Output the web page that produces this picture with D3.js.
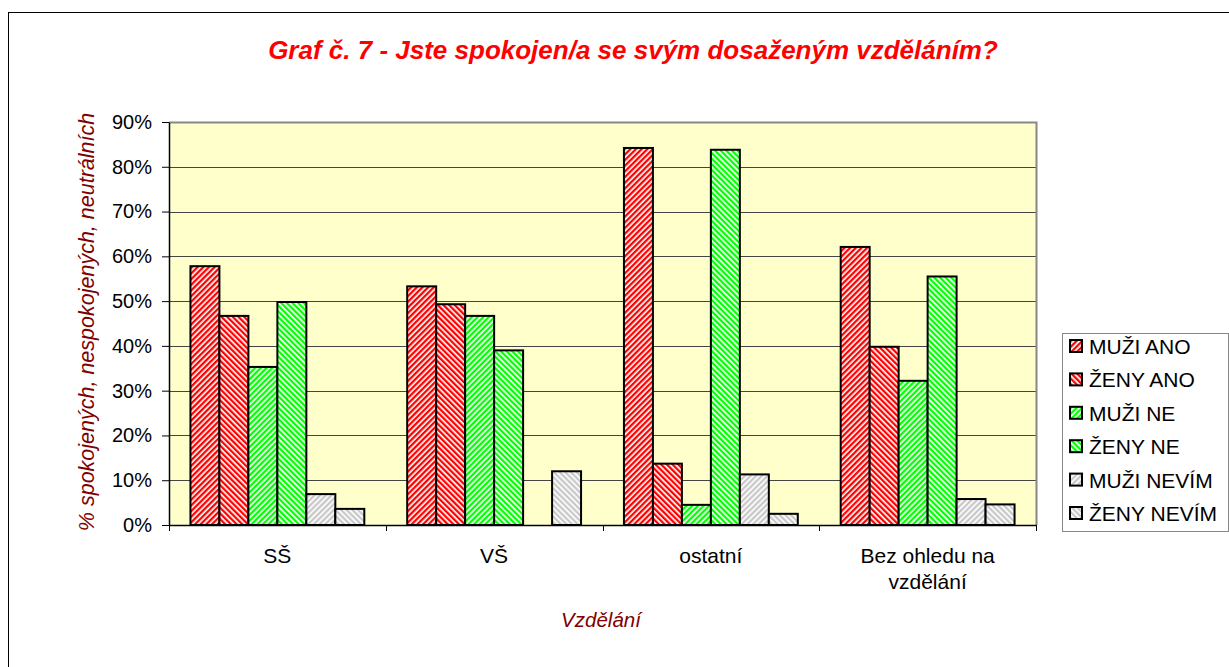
<!DOCTYPE html>
<html>
<head>
<meta charset="utf-8">
<script src="https://cdn.jsdelivr.net/npm/d3@7"></script>
<style>
  body { margin: 0; background: #fff; }
  text { font-family: "Liberation Sans", Arial, sans-serif; }
</style>
</head>
<body>
<div id="chart"></div>
<script>
// data
const categories = ["SŠ", "VŠ", "ostatní", "Bez ohledu na vzdělání"];
const seriesNames = ["MUŽI ANO", "ŽENY ANO", "MUŽI NE", "ŽENY NE", "MUŽI NEVÍM", "ŽENY NEVÍM"];
const muziAno = [57.8, 53.3, 84.2, 62.1];
const zenyAno = [46.7, 49.3, 13.7, 39.8];
const muziNe = [35.3, 46.7, 4.5, 32.2];
const zenyNe = [49.8, 39.0, 83.8, 55.5];
const muziNevim = [6.9, 0, 11.3, 5.8];
const zenyNevim = [3.6, 12.0, 2.5, 4.6];
const yTicks = [0, 10, 20, 30, 40, 50, 60, 70, 80, 90];

const seriesValues = [muziAno, zenyAno, muziNe, zenyNe, muziNevim, zenyNevim];
const seriesColor = ["#ff0000", "#ff0000", "#00ff00", "#00ff00", "#c8c8c8", "#c8c8c8"];
const seriesDir = ["up", "down", "up", "down", "up", "down"];

const W = 1229, H = 667;
const plot = { left: 169, right: 1036, top: 122, bottom: 525 };

const svg = d3.select("#chart")
  .append("svg")
  .attr("width", W)
  .attr("height", H);

// hatch patterns
const defs = svg.append("defs");
seriesNames.forEach((name, i) => {
  const p = defs.append("pattern")
    .attr("id", "pat" + i)
    .attr("patternUnits", "userSpaceOnUse")
    .attr("width", 4)
    .attr("height", 4)
    .attr("patternTransform", seriesDir[i] === "up" ? "rotate(45)" : "rotate(-45)");
  p.append("rect").attr("width", 4).attr("height", 4).attr("fill", "#fff");
  p.append("rect").attr("width", 2.3).attr("height", 4).attr("fill", seriesColor[i]);
});

// outer chart border
svg.append("rect")
  .attr("x", 8.5).attr("y", 12.5)
  .attr("width", 1240).attr("height", 680)
  .attr("fill", "none").attr("stroke", "#000").attr("stroke-width", 1);

const x0 = d3.scaleBand()
  .domain(categories)
  .range([plot.left, plot.right])
  .paddingInner(0).paddingOuter(0);

const x1 = d3.scaleBand()
  .domain(d3.range(seriesNames.length))
  .range([0, x0.bandwidth()])
  .paddingOuter(0.74);

const y = d3.scaleLinear()
  .domain([0, 90])
  .range([plot.bottom, plot.top]);

// plot background
svg.append("rect")
  .attr("x", plot.left).attr("y", plot.top)
  .attr("width", plot.right - plot.left).attr("height", plot.bottom - plot.top)
  .attr("fill", "#ffffcc");

// grid
svg.append("g")
  .selectAll("line")
  .data(yTicks.filter(d => d > 0))
  .join("line")
  .attr("x1", plot.left).attr("x2", plot.right)
  .attr("y1", d => Math.round(y(d)) + 0.5).attr("y2", d => Math.round(y(d)) + 0.5)
  .attr("stroke", "#444").attr("stroke-width", 1);

// top and right plot border
svg.append("path")
  .attr("d", `M${plot.left},${plot.top + 0.5}H${plot.right + 0.5}V${plot.bottom}`)
  .attr("fill", "none").attr("stroke", "#888").attr("stroke-width", 2);

// bars
const groups = svg.append("g")
  .selectAll("g")
  .data(categories)
  .join("g")
  .attr("transform", d => `translate(${x0(d)},0)`);

groups.selectAll("rect")
  .data((c, ci) => seriesValues.map((vals, si) => ({ si, v: vals[ci] })))
  .join("rect")
  .filter(d => d.v > 0)
  .attr("x", d => x1(d.si))
  .attr("y", d => y(d.v))
  .attr("width", x1.bandwidth())
  .attr("height", d => y(0) - y(d.v))
  .attr("fill", d => `url(#pat${d.si})`)
  .attr("stroke", "#000")
  .attr("stroke-width", 2);

// y axis
const yAxis = svg.append("g")
  .attr("transform", `translate(${plot.left},0)`)
  .call(d3.axisLeft(y).tickValues(yTicks).tickFormat(d => d + "%").tickSize(7).tickSizeOuter(0));
yAxis.select(".domain").attr("stroke", "#000").attr("stroke-width", 1.5);
yAxis.selectAll(".tick line").attr("stroke", "#000");
yAxis.selectAll(".tick text")
  .attr("font-size", 20).attr("font-family", "Liberation Sans, Arial, sans-serif")
  .attr("fill", "#000").attr("x", -17);

// x axis
const xAxis = svg.append("g")
  .attr("transform", `translate(0,${plot.bottom})`)
  .call(d3.axisBottom(x0).tickSize(0).tickFormat(""));
xAxis.select(".domain").attr("stroke", "#000").attr("stroke-width", 1.5);

svg.append("g")
  .selectAll("line")
  .data(d3.range(categories.length + 1))
  .join("line")
  .attr("x1", i => Math.round(plot.left + i * x0.bandwidth()) + 0.5)
  .attr("x2", i => Math.round(plot.left + i * x0.bandwidth()) + 0.5)
  .attr("y1", plot.bottom).attr("y2", plot.bottom + 6)
  .attr("stroke", "#000");

// category labels (wrap the long one)
const catLines = { "Bez ohledu na vzdělání": ["Bez ohledu na", "vzdělání"] };
svg.append("g")
  .selectAll("text")
  .data(categories)
  .join("text")
  .attr("x", d => x0(d) + x0.bandwidth() / 2)
  .attr("y", 563)
  .attr("text-anchor", "middle")
  .attr("font-size", 21)
  .attr("fill", "#000")
  .each(function (d) {
    const lines = catLines[d] || [d];
    const t = d3.select(this);
    lines.forEach((l, i) => {
      t.append("tspan")
        .attr("x", x0(d) + x0.bandwidth() / 2)
        .attr("dy", i === 0 ? 0 : 26)
        .text(l);
    });
  });

// title
svg.append("text")
  .attr("x", 633).attr("y", 59)
  .attr("text-anchor", "middle")
  .attr("font-size", 26)
  .attr("font-weight", "bold")
  .attr("font-style", "italic")
  .attr("fill", "#ff0000")
  .text("Graf č. 7 - Jste spokojen/a se svým dosaženým vzděláním?");

// axis titles
svg.append("text")
  .attr("transform", `translate(94,322) rotate(-90)`)
  .attr("text-anchor", "middle")
  .attr("font-size", 21.5)
  .attr("font-style", "italic")
  .attr("fill", "#800000")
  .text("% spokojených, nespokojených, neutrálních");

svg.append("text")
  .attr("x", 601).attr("y", 627)
  .attr("text-anchor", "middle")
  .attr("font-size", 20.5)
  .attr("font-style", "italic")
  .attr("fill", "#800000")
  .text("Vzdělání");

// legend
const legend = svg.append("g");
legend.append("rect")
  .attr("x", 1062.5).attr("y", 333.5)
  .attr("width", 166).attr("height", 198)
  .attr("fill", "#fff").attr("stroke", "#888").attr("stroke-width", 1);

const li = legend.selectAll("g")
  .data(seriesNames)
  .join("g")
  .attr("transform", (d, i) => `translate(1070,${346 + i * 33.4})`);
li.append("rect")
  .attr("x", 0).attr("y", -6)
  .attr("width", 12).attr("height", 12)
  .attr("fill", (d, i) => `url(#pat${i})`)
  .attr("stroke", "#000").attr("stroke-width", 2);
li.append("text")
  .attr("x", 19).attr("y", 8)
  .attr("font-size", 21)
  .attr("fill", "#000")
  .text(d => d);
</script>
</body>
</html>
